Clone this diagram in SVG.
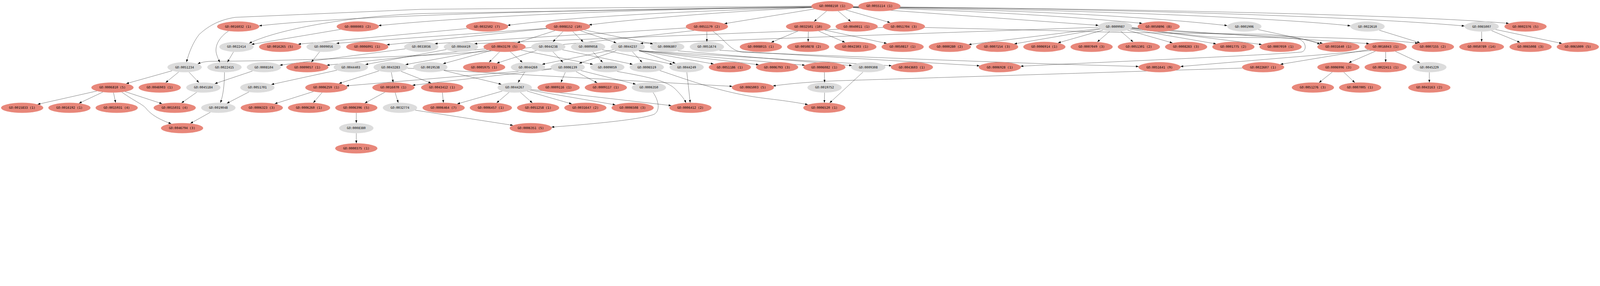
<svg xmlns="http://www.w3.org/2000/svg" width="7585" height="731" viewBox="0 0 7585 731">
<style>
svg{width:100vw;height:calc(100vw * 0.0963744)}
.r{fill:#e8877a}
.g{fill:#dcdcdc}
text{font-family:"DejaVu Sans Mono","Liberation Mono",monospace;font-size:14.8px;text-anchor:middle;fill:#000}
#edges path{fill:none;stroke:#000;stroke-width:1;marker-end:url(#ah)}
</style>
<defs>
<marker id="ah" markerWidth="13" markerHeight="10" refX="13" refY="5" orient="auto" markerUnits="userSpaceOnUse"><path d="M0,0.3 L13,5 L0,9.7 z" fill="#000"/></marker>
</defs>
<rect width="7585" height="731" fill="#fff"/>
<g id="edges">
<path d="M3847,32 C2800,45 1700,70 1228,122"/>
<path d="M3848,33 C3000,45 2300,72 1794,121"/>
<path d="M3849,35 C3300,50 2700,80 2406,120"/>
<path d="M3851,36 C3500,50 3000,90 2792,118"/>
<path d="M3863,42 L3434,112"/>
<path d="M3919,52 L3859,102"/>
<path d="M3973,52 L4033,102"/>
<path d="M4010,47 L4220,107"/>
<path d="M4042,36 L5208,120"/>
<path d="M4043,35 C4600,48 5100,80 5415,110.5"/>
<path d="M4044,34 C4800,45 5400,75 5818,121"/>
<path d="M4045,33 C5000,42 6000,80 6402,122"/>
<path d="M4045,32 C5200,40 6400,75 6943,123"/>
<path d="M4045,32 C5300,40 6700,70 7153,110.8"/>
<path d="M3847,33 L2000,64 C1600,80 1290,150 1181,205"/>
<path d="M3847,29 L2000,44 L1115,82 C1030,95 980,130 944,163 C915,200 895,250 884,294"/>
<path d="M1083,147 C1040,175 1018,215 1025,250 C1030,270 1036,282 1042,295"/>
<path d="M1614,139 L1192,210"/>
<path d="M2216,135 L1413,209"/>
<path d="M2593,134 L1594,205"/>
<path d="M2595,135 L1833,212"/>
<path d="M2631,145 L2452,202"/>
<path d="M2669,149 L2621,198"/>
<path d="M2715,149 L2765,198.5"/>
<path d="M2751,145 L2922,203"/>
<path d="M2770,142 L3096,208"/>
<path d="M3255,132 L2061,206.6"/>
<path d="M3351,149.5 L3351,197.5"/>
<path d="M3290,144.5 C2800,200 2300,250 2000,262 C1700,275 1300,289 1000,290 C970,291 950,296 937,302.5"/>
<path d="M3380,148.5 C3440,190 3460,240 3520,247 C3800,258 4600,290 5000,303 L5398,314.6"/>
<path d="M3783,147 L3656,200.6"/>
<path d="M3832,149.5 L3831,197.5"/>
<path d="M3881,147 L4006,200.5"/>
<path d="M3909,142 L4204,205.5"/>
<path d="M4187,130 L2249,206.6"/>
<path d="M4383,130 L5000,145 C5200,152 5400,155 6000,162 C6100,168 6200,185 6258,209.7"/>
<path d="M5206,129 L3035,205"/>
<path d="M5212,135 L4592,210.6"/>
<path d="M5217,137.6 L4808,207.6"/>
<path d="M5229,142.3 L5015.5,203"/>
<path d="M5260.5,148.2 L5202,198.4"/>
<path d="M5313.5,148.2 L5372,198.4"/>
<path d="M5345,142.3 L5558.5,203"/>
<path d="M5357,137.6 L5765.6,207.6"/>
<path d="M5362,134.7 L5982,210.6"/>
<path d="M5366,131.4 L6491,206.5"/>
<path d="M5367,130.6 C5700,165 6100,172 6400,182 C6550,188 6650,196 6722,204.6"/>
<path d="M5365,132.5 C5600,160 5700,175 5800,177 C6000,178 6120,176 6160,186 C6195,200 6195,240 6170,246 C6000,262 5200,295 4838,313.2"/>
<path d="M5965,140 L6270.5,205.5"/>
<path d="M6539,143 L6732,202.5"/>
<path d="M7024,149.5 L7024,197.5"/>
<path d="M7071,145 L7206,200.7"/>
<path d="M7090,139.5 L7405,205.6"/>
<path d="M1107,245 L1078,294.4"/>
<path d="M1515,245 L1476,294.4"/>
<path d="M1922,231 L1326,308.4"/>
<path d="M2116,234.3 L1732,305.2"/>
<path d="M2300,231 L1549,308.5"/>
<path d="M2312,235.8 L1922,305.6"/>
<path d="M2326,239.5 L2100,301.7"/>
<path d="M2368.5,244.8 L2318.5,294.7"/>
<path d="M2418.6,244.6 L2476.8,295.3"/>
<path d="M2469,236.7 L2811,304.6"/>
<path d="M2543,239 L2355,298.8"/>
<path d="M2621,244.6 L2669,294.9"/>
<path d="M2666,235.3 L2999,304.2"/>
<path d="M2810,244.6 L2857,294.9"/>
<path d="M2855,235.3 L3188,304.2"/>
<path d="M2909,235 L2570,304.4"/>
<path d="M2922,239.6 L2745,299.9"/>
<path d="M2998,244.6 L3044,294.9"/>
<path d="M3029,239.7 L3202,299.8"/>
<path d="M3029,239.7 L3383,302.7"/>
<path d="M3029,239.7 L3597,306.2"/>
<path d="M3029,239.7 L3816,308.5"/>
<path d="M3029,239.7 L4227,311.1"/>
<path d="M3213,240.5 L4039,310.2"/>
<path d="M3411,237.7 L4644,311.3"/>
<path d="M6501,239 L5596,314.6"/>
<path d="M6487,235.2 L6070,304.3"/>
<path d="M6520,242.5 L6394,297"/>
<path d="M6569,245.5 L6569,294"/>
<path d="M6615,242.8 L6732,297.7"/>
<path d="M816,334.6 L598,395.8"/>
<path d="M847,340.6 L785,391"/>
<path d="M896,341.2 L943,390.8"/>
<path d="M1064,342 C1064,400 1058,450 1045,486.2"/>
<path d="M1197,336 L1018,396"/>
<path d="M1597,332.2 L1286,399.8"/>
<path d="M1796,335.5 L1607,394.9"/>
<path d="M1855,342 L1864,390"/>
<path d="M1901,337.2 L2044,393.5"/>
<path d="M1932,322.5 L3472,408.6"/>
<path d="M2613,324.6 L1641,406.1"/>
<path d="M2615,326.8 L1955,403.5"/>
<path d="M2680,341.8 L2659,390.1"/>
<path d="M2731,339 L2831,392.1"/>
<path d="M2753,333.5 L3014,398.5"/>
<path d="M2103,333.2 L2377,398.8"/>
<path d="M2487.5,341.6 L2455.5,390.4"/>
<path d="M2925,337.8 C3050,360 3160,380 3200,420 C3230,450 3245,470 3252,486.5"/>
<path d="M3256,342 L3272,486"/>
<path d="M3128,333.6 C3300,392 3450,445 3640,467 C3720,476 3790,487 3830,495"/>
<path d="M3908,342 L3909,390"/>
<path d="M4091,341 L3933,486.8"/>
<path d="M5889,322 C5000,350 4200,375 4000,381 C3850,386 3750,395 3664,406.5"/>
<path d="M6316,341 L6253,391"/>
<path d="M6370,341.2 L6423,390.8"/>
<path d="M6776,342 L6776,390"/>
<path d="M932.6,436.2 L860.2,487.3"/>
<path d="M460,430.4 L178,493.6"/>
<path d="M487.7,435.4 L374.3,488.6"/>
<path d="M538,438 L548,486"/>
<path d="M592.4,433.3 L768.6,490.7"/>
<path d="M577,435.6 C640,480 670,490 690,510 C710,535 740,560 812,585.4"/>
<path d="M1180,434.9 L1075,489.1"/>
<path d="M1486,433.1 L1302,490.9"/>
<path d="M1527,437.5 L1485,486.5"/>
<path d="M1825,436 L1729,488"/>
<path d="M1873,437.9 L1888,486.1"/>
<path d="M2097,438 L2102,486"/>
<path d="M2381.5,430.7 L2167.4,491.6"/>
<path d="M2413.3,436.7 L2354.2,486.9"/>
<path d="M2466.7,436.7 L2523.8,486.9"/>
<path d="M2498.4,430.7 L2710.8,491.6"/>
<path d="M2510.3,426.1 L2917.6,496"/>
<path d="M2516,422.8 L3182.8,499.6"/>
<path d="M3096,437.3 C3125,480 3130,525 3100,541 C3050,560 2900,580 2614,601.2"/>
<path d="M3909,438 L3908,486"/>
<path d="M997,531.2 L902.3,584"/>
<path d="M1968,521.2 L2432,592.9"/>
<path d="M1689,534 L1689,582"/>
<path d="M1689,630 L1689,678"/>
</g>
<g id="GO_0008150"><ellipse class="r" cx="3946" cy="29" rx="100" ry="24"/><text x="3946" y="34">GO:0008150 (1)</text></g>
<g id="GO_0055114"><ellipse class="r" cx="4169" cy="29" rx="100" ry="24"/><text x="4169" y="34">GO:0055114 (1)</text></g>
<g id="GO_0016032"><ellipse class="r" cx="1129" cy="125.5" rx="100" ry="24"/><text x="1129" y="130.5">GO:0016032 (1)</text></g>
<g id="GO_0000003"><ellipse class="r" cx="1696" cy="125.5" rx="100" ry="24"/><text x="1696" y="130.5">GO:0000003 (2)</text></g>
<g id="GO_0032502"><ellipse class="r" cx="2309" cy="125.5" rx="100" ry="24"/><text x="2309" y="130.5">GO:0032502 (7)</text></g>
<g id="GO_0008152"><ellipse class="r" cx="2692" cy="125.5" rx="106" ry="24"/><text x="2692" y="130.5">GO:0008152 (10)</text></g>
<g id="GO_0051179"><ellipse class="r" cx="3351" cy="125.5" rx="100" ry="24"/><text x="3351" y="130.5">GO:0051179 (2)</text></g>
<g id="GO_0032501"><ellipse class="r" cx="3832" cy="125.5" rx="106" ry="24"/><text x="3832" y="130.5">GO:0032501 (10)</text></g>
<g id="GO_0040011"><ellipse class="r" cx="4061" cy="125.5" rx="100" ry="24"/><text x="4061" y="130.5">GO:0040011 (1)</text></g>
<g id="GO_0051704"><ellipse class="r" cx="4285" cy="125.5" rx="100" ry="24"/><text x="4285" y="130.5">GO:0051704 (3)</text></g>
<g id="GO_0009987"><ellipse class="g" cx="5287" cy="125.5" rx="81.5" ry="24"/><text x="5287" y="130.5">GO:0009987</text></g>
<g id="GO_0050896"><ellipse class="r" cx="5493" cy="125.5" rx="100" ry="24"/><text x="5493" y="130.5">GO:0050896 (8)</text></g>
<g id="GO_0001906"><ellipse class="g" cx="5899" cy="125.5" rx="81.5" ry="24"/><text x="5899" y="130.5">GO:0001906</text></g>
<g id="GO_0022610"><ellipse class="g" cx="6483" cy="125.5" rx="81.5" ry="24"/><text x="6483" y="130.5">GO:0022610</text></g>
<g id="GO_0065007"><ellipse class="g" cx="7024" cy="125.5" rx="81.5" ry="24"/><text x="7024" y="130.5">GO:0065007</text></g>
<g id="GO_0002376"><ellipse class="r" cx="7232" cy="125.5" rx="100" ry="24"/><text x="7232" y="130.5">GO:0002376 (5)</text></g>
<g id="GO_0022414"><ellipse class="g" cx="1121" cy="221.5" rx="81.5" ry="24"/><text x="1121" y="226.5">GO:0022414</text></g>
<g id="GO_0016265"><ellipse class="r" cx="1328" cy="221.5" rx="100" ry="24"/><text x="1328" y="226.5">GO:0016265 (5)</text></g>
<g id="GO_0009056"><ellipse class="g" cx="1534" cy="221.5" rx="81.5" ry="24"/><text x="1534" y="226.5">GO:0009056</text></g>
<g id="GO_0006091"><ellipse class="r" cx="1741" cy="221.5" rx="100" ry="24"/><text x="1741" y="226.5">GO:0006091 (1)</text></g>
<g id="GO_0033036"><ellipse class="g" cx="1997" cy="221.5" rx="81.5" ry="24"/><text x="1997" y="226.5">GO:0033036</text></g>
<g id="GO_0044419"><ellipse class="g" cx="2185" cy="221.5" rx="81.5" ry="24"/><text x="2185" y="226.5">GO:0044419</text></g>
<g id="GO_0043170"><ellipse class="r" cx="2392" cy="221.5" rx="100" ry="24"/><text x="2392" y="226.5">GO:0043170 (5)</text></g>
<g id="GO_0044238"><ellipse class="g" cx="2599" cy="221.5" rx="81.5" ry="24"/><text x="2599" y="226.5">GO:0044238</text></g>
<g id="GO_0009058"><ellipse class="g" cx="2788" cy="221.5" rx="81.5" ry="24"/><text x="2788" y="226.5">GO:0009058</text></g>
<g id="GO_0044237"><ellipse class="g" cx="2976" cy="221.5" rx="81.5" ry="24"/><text x="2976" y="226.5">GO:0044237</text></g>
<g id="GO_0006807"><ellipse class="g" cx="3163" cy="221.5" rx="81.5" ry="24"/><text x="3163" y="226.5">GO:0006807</text></g>
<g id="GO_0051674"><ellipse class="g" cx="3351" cy="221.5" rx="81.5" ry="24"/><text x="3351" y="226.5">GO:0051674</text></g>
<g id="GO_0008015"><ellipse class="r" cx="3607" cy="221.5" rx="100" ry="24"/><text x="3607" y="226.5">GO:0008015 (1)</text></g>
<g id="GO_0050878"><ellipse class="r" cx="3831" cy="221.5" rx="100" ry="24"/><text x="3831" y="226.5">GO:0050878 (2)</text></g>
<g id="GO_0042303"><ellipse class="r" cx="4055" cy="221.5" rx="100" ry="24"/><text x="4055" y="226.5">GO:0042303 (1)</text></g>
<g id="GO_0050817"><ellipse class="r" cx="4279" cy="221.5" rx="100" ry="24"/><text x="4279" y="226.5">GO:0050817 (1)</text></g>
<g id="GO_0000280"><ellipse class="r" cx="4503" cy="221.5" rx="100" ry="24"/><text x="4503" y="226.5">GO:0000280 (2)</text></g>
<g id="GO_0007154"><ellipse class="r" cx="4727" cy="221.5" rx="100" ry="24"/><text x="4727" y="226.5">GO:0007154 (3)</text></g>
<g id="GO_0006914"><ellipse class="r" cx="4951" cy="221.5" rx="100" ry="24"/><text x="4951" y="226.5">GO:0006914 (1)</text></g>
<g id="GO_0007049"><ellipse class="r" cx="5175" cy="221.5" rx="100" ry="24"/><text x="5175" y="226.5">GO:0007049 (3)</text></g>
<g id="GO_0051301"><ellipse class="r" cx="5399" cy="221.5" rx="100" ry="24"/><text x="5399" y="226.5">GO:0051301 (2)</text></g>
<g id="GO_0008283"><ellipse class="r" cx="5623" cy="221.5" rx="100" ry="24"/><text x="5623" y="226.5">GO:0008283 (3)</text></g>
<g id="GO_0001775"><ellipse class="r" cx="5847" cy="221.5" rx="100" ry="24"/><text x="5847" y="226.5">GO:0001775 (2)</text></g>
<g id="GO_0007059"><ellipse class="r" cx="6071" cy="221.5" rx="100" ry="24"/><text x="6071" y="226.5">GO:0007059 (1)</text></g>
<g id="GO_0031640"><ellipse class="r" cx="6345" cy="221.5" rx="100" ry="24"/><text x="6345" y="226.5">GO:0031640 (1)</text></g>
<g id="GO_0016043"><ellipse class="r" cx="6569" cy="221.5" rx="100" ry="24"/><text x="6569" y="226.5">GO:0016043 (1)</text></g>
<g id="GO_0007155"><ellipse class="r" cx="6793" cy="221.5" rx="100" ry="24"/><text x="6793" y="226.5">GO:0007155 (2)</text></g>
<g id="GO_0050789"><ellipse class="r" cx="7024" cy="221.5" rx="106" ry="24"/><text x="7024" y="226.5">GO:0050789 (14)</text></g>
<g id="GO_0065008"><ellipse class="r" cx="7256" cy="221.5" rx="100" ry="24"/><text x="7256" y="226.5">GO:0065008 (3)</text></g>
<g id="GO_0065009"><ellipse class="r" cx="7480" cy="221.5" rx="100" ry="24"/><text x="7480" y="226.5">GO:0065009 (5)</text></g>
<g id="GO_0051234"><ellipse class="g" cx="875" cy="318" rx="81.5" ry="24"/><text x="875" y="323">GO:0051234</text></g>
<g id="GO_0022415"><ellipse class="g" cx="1064" cy="318" rx="81.5" ry="24"/><text x="1064" y="323">GO:0022415</text></g>
<g id="GO_0008104"><ellipse class="g" cx="1251" cy="318" rx="81.5" ry="24"/><text x="1251" y="323">GO:0008104</text></g>
<g id="GO_0009057"><ellipse class="r" cx="1457" cy="318" rx="100" ry="24"/><text x="1457" y="323">GO:0009057 (1)</text></g>
<g id="GO_0044403"><ellipse class="g" cx="1663" cy="318" rx="81.5" ry="24"/><text x="1663" y="323">GO:0044403</text></g>
<g id="GO_0043283"><ellipse class="g" cx="1852" cy="318" rx="81.5" ry="24"/><text x="1852" y="323">GO:0043283</text></g>
<g id="GO_0019538"><ellipse class="g" cx="2040" cy="318" rx="81.5" ry="24"/><text x="2040" y="323">GO:0019538</text></g>
<g id="GO_0005975"><ellipse class="r" cx="2295" cy="318" rx="100" ry="24"/><text x="2295" y="323">GO:0005975 (1)</text></g>
<g id="GO_0044260"><ellipse class="g" cx="2503" cy="318" rx="81.5" ry="24"/><text x="2503" y="323">GO:0044260</text></g>
<g id="GO_0006139"><ellipse class="g" cx="2691" cy="318" rx="81.5" ry="24"/><text x="2691" y="323">GO:0006139</text></g>
<g id="GO_0009059"><ellipse class="g" cx="2879" cy="318" rx="81.5" ry="24"/><text x="2879" y="323">GO:0009059</text></g>
<g id="GO_0006519"><ellipse class="g" cx="3066" cy="318" rx="81.5" ry="24"/><text x="3066" y="323">GO:0006519</text></g>
<g id="GO_0044249"><ellipse class="g" cx="3255" cy="318" rx="81.5" ry="24"/><text x="3255" y="323">GO:0044249</text></g>
<g id="GO_0051186"><ellipse class="r" cx="3460" cy="318" rx="100" ry="24"/><text x="3460" y="323">GO:0051186 (1)</text></g>
<g id="GO_0006793"><ellipse class="r" cx="3684" cy="318" rx="100" ry="24"/><text x="3684" y="323">GO:0006793 (3)</text></g>
<g id="GO_0006082"><ellipse class="r" cx="3908" cy="318" rx="100" ry="24"/><text x="3908" y="323">GO:0006082 (1)</text></g>
<g id="GO_0009308"><ellipse class="g" cx="4116" cy="318" rx="81.5" ry="24"/><text x="4116" y="323">GO:0009308</text></g>
<g id="GO_0043603"><ellipse class="r" cx="4323" cy="318" rx="100" ry="24"/><text x="4323" y="323">GO:0043603 (1)</text></g>
<g id="GO_0006928"><ellipse class="r" cx="4740" cy="318" rx="100" ry="24"/><text x="4740" y="323">GO:0006928 (1)</text></g>
<g id="GO_0051641"><ellipse class="r" cx="5497" cy="318" rx="100" ry="24"/><text x="5497" y="323">GO:0051641 (9)</text></g>
<g id="GO_0022607"><ellipse class="r" cx="5988" cy="318" rx="100" ry="24"/><text x="5988" y="323">GO:0022607 (1)</text></g>
<g id="GO_0006996"><ellipse class="r" cx="6345" cy="318" rx="100" ry="24"/><text x="6345" y="323">GO:0006996 (3)</text></g>
<g id="GO_0022411"><ellipse class="r" cx="6569" cy="318" rx="100" ry="24"/><text x="6569" y="323">GO:0022411 (1)</text></g>
<g id="GO_0045229"><ellipse class="g" cx="6776" cy="318" rx="81.5" ry="24"/><text x="6776" y="323">GO:0045229</text></g>
<g id="GO_0006810"><ellipse class="r" cx="533" cy="414" rx="100" ry="24"/><text x="533" y="419">GO:0006810 (5)</text></g>
<g id="GO_0046903"><ellipse class="r" cx="757" cy="414" rx="100" ry="24"/><text x="757" y="419">GO:0046903 (1)</text></g>
<g id="GO_0045184"><ellipse class="g" cx="964" cy="414" rx="81.5" ry="24"/><text x="964" y="419">GO:0045184</text></g>
<g id="GO_0051701"><ellipse class="g" cx="1220" cy="414" rx="81.5" ry="24"/><text x="1220" y="419">GO:0051701</text></g>
<g id="GO_0006259"><ellipse class="r" cx="1547" cy="414" rx="100" ry="24"/><text x="1547" y="419">GO:0006259 (1)</text></g>
<g id="GO_0016070"><ellipse class="r" cx="1865" cy="414" rx="100" ry="24"/><text x="1865" y="419">GO:0016070 (1)</text></g>
<g id="GO_0043412"><ellipse class="r" cx="2096" cy="414" rx="100" ry="24"/><text x="2096" y="419">GO:0043412 (1)</text></g>
<g id="GO_0044267"><ellipse class="g" cx="2440" cy="414" rx="81.5" ry="24"/><text x="2440" y="419">GO:0044267</text></g>
<g id="GO_0009116"><ellipse class="r" cx="2648" cy="414" rx="100" ry="24"/><text x="2648" y="419">GO:0009116 (1)</text></g>
<g id="GO_0009117"><ellipse class="r" cx="2872" cy="414" rx="100" ry="24"/><text x="2872" y="419">GO:0009117 (1)</text></g>
<g id="GO_0006350"><ellipse class="g" cx="3076" cy="414" rx="81.5" ry="24"/><text x="3076" y="419">GO:0006350</text></g>
<g id="GO_0065003"><ellipse class="r" cx="3569" cy="414" rx="100" ry="24"/><text x="3569" y="419">GO:0065003 (5)</text></g>
<g id="GO_0019752"><ellipse class="g" cx="3909" cy="414" rx="81.5" ry="24"/><text x="3909" y="419">GO:0019752</text></g>
<g id="GO_0051276"><ellipse class="r" cx="6224" cy="414" rx="100" ry="24"/><text x="6224" y="419">GO:0051276 (3)</text></g>
<g id="GO_0007005"><ellipse class="r" cx="6448" cy="414" rx="100" ry="24"/><text x="6448" y="419">GO:0007005 (1)</text></g>
<g id="GO_0043163"><ellipse class="r" cx="6776" cy="414" rx="100" ry="24"/><text x="6776" y="419">GO:0043163 (2)</text></g>
<g id="GO_0015833"><ellipse class="r" cx="105" cy="510" rx="100" ry="24"/><text x="105" y="515">GO:0015833 (1)</text></g>
<g id="GO_0016192"><ellipse class="r" cx="329" cy="510" rx="100" ry="24"/><text x="329" y="515">GO:0016192 (1)</text></g>
<g id="GO_0015931"><ellipse class="r" cx="553" cy="510" rx="100" ry="24"/><text x="553" y="515">GO:0015931 (4)</text></g>
<g id="GO_0015031"><ellipse class="r" cx="828" cy="510" rx="100" ry="24"/><text x="828" y="515">GO:0015031 (4)</text></g>
<g id="GO_0019048"><ellipse class="g" cx="1035" cy="510" rx="81.5" ry="24"/><text x="1035" y="515">GO:0019048</text></g>
<g id="GO_0006323"><ellipse class="r" cx="1241" cy="510" rx="100" ry="24"/><text x="1241" y="515">GO:0006323 (3)</text></g>
<g id="GO_0006260"><ellipse class="r" cx="1465" cy="510" rx="100" ry="24"/><text x="1465" y="515">GO:0006260 (1)</text></g>
<g id="GO_0006396"><ellipse class="r" cx="1689" cy="510" rx="100" ry="24"/><text x="1689" y="515">GO:0006396 (5)</text></g>
<g id="GO_0032774"><ellipse class="g" cx="1896" cy="510" rx="81.5" ry="24"/><text x="1896" y="515">GO:0032774</text></g>
<g id="GO_0006464"><ellipse class="r" cx="2103" cy="510" rx="100" ry="24"/><text x="2103" y="515">GO:0006464 (7)</text></g>
<g id="GO_0006457"><ellipse class="r" cx="2327" cy="510" rx="100" ry="24"/><text x="2327" y="515">GO:0006457 (1)</text></g>
<g id="GO_0051258"><ellipse class="r" cx="2551" cy="510" rx="100" ry="24"/><text x="2551" y="515">GO:0051258 (1)</text></g>
<g id="GO_0031647"><ellipse class="r" cx="2775" cy="510" rx="100" ry="24"/><text x="2775" y="515">GO:0031647 (2)</text></g>
<g id="GO_0006508"><ellipse class="r" cx="2999" cy="510" rx="100" ry="24"/><text x="2999" y="515">GO:0006508 (3)</text></g>
<g id="GO_0006412"><ellipse class="r" cx="3273" cy="510" rx="100" ry="24"/><text x="3273" y="515">GO:0006412 (2)</text></g>
<g id="GO_0006520"><ellipse class="r" cx="3908" cy="510" rx="100" ry="24"/><text x="3908" y="515">GO:0006520 (1)</text></g>
<g id="GO_0046794"><ellipse class="r" cx="863" cy="606" rx="100" ry="24"/><text x="863" y="611">GO:0046794 (3)</text></g>
<g id="GO_0008380"><ellipse class="g" cx="1689" cy="606" rx="81.5" ry="24"/><text x="1689" y="611">GO:0008380</text></g>
<g id="GO_0006351"><ellipse class="r" cx="2516" cy="606" rx="100" ry="24"/><text x="2516" y="611">GO:0006351 (5)</text></g>
<g id="GO_0000375"><ellipse class="r" cx="1689" cy="702" rx="100" ry="24"/><text x="1689" y="707">GO:0000375 (1)</text></g>
</svg>
